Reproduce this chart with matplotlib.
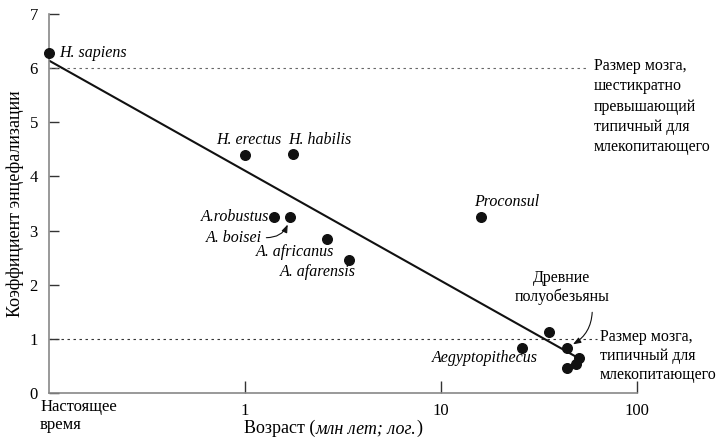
import matplotlib
matplotlib.use("Agg")
from matplotlib import pyplot as plt  # noqa

# species: age (million years, log scale) and encephalization quotient
names = ['H. sapiens', 'H. erectus', 'H. habilis', 'A.robustus', 'A. boisei',
         'A. africanus', 'A. afarensis', 'Proconsul', 'Aegyptopithecus']
ages = [0.1, 1.0, 1.75, 1.41, 1.70, 2.61, 3.39, 16.0, 25.8]
eq = [6.28, 4.39, 4.42, 3.26, 3.26, 2.85, 2.45, 3.25, 0.84]

# unlabeled primate points (prosimians etc.)
prim_ages = [35.7, 43.8, 50.6, 48.7, 43.8]
prim_eq = [1.13, 0.84, 0.65, 0.53, 0.47]

# regression line end points
fit_x = [0.1, 48.3]
fit_y = [6.14, 0.68]

# label offsets (pixels) and alignment
offsets = [(10, 0, 'left'), (4, 15, 'center'), (27, 14, 'center'), (-5, 0, 'right'),
           (-28, -21, 'right'), (-32, -13, 'center'), (-31, -12, 'center'),
           (26, 15, 'center'), (-37, -10, 'center')]

serif = 'Liberation Serif'
plt.rcParams['font.family'] = serif
fs = 11.5      # annotations
fs_tick = 12
fs_lab = 13

fig = plt.figure(figsize=(7.23, 4.38), dpi=100)
ax = fig.add_axes([0.0678, 0.1027, 0.8133, 0.8653])

ax.set_xscale('log')
ax.set_xlim(0.1, 100)
ax.set_ylim(0, 7)

ax.plot([0.1, 55.6], [6, 6], color='#666666', lw=0.8, ls=(0, (2.2, 3.2)))
ax.plot([0.1, 62.5], [1, 1], color='#333333', lw=0.8, ls=(0, (2.2, 3.2)))
ax.plot(fit_x, fit_y, color='#111111', lw=1.5)

ax.scatter(ages, eq, s=48, color='#111111', zorder=3, clip_on=False)
ax.scatter(prim_ages, prim_eq, s=48, color='#111111', zorder=3)

for name, x, y, (dx, dy, ha) in zip(names, ages, eq, offsets):
    if name == 'A. boisei':
        continue
    ax.annotate(name, (x, y), xytext=(dx, dy), textcoords='offset pixels',
                ha=ha, va='center', style='italic', fontsize=fs)

# A. boisei with curved pointer
ax.annotate('A. boisei', (ages[4], eq[4]), xytext=(-28, -21), textcoords='offset pixels',
            ha='right', va='center', style='italic', fontsize=fs,
            arrowprops=dict(arrowstyle='-|>,head_length=0.4,head_width=0.15', color='#111111', lw=0.8,
                            connectionstyle='arc3,rad=0.45', shrinkA=1, shrinkB=6,
                            relpos=(1.0, 0.5)))

ax.annotate('Древние\nполуобезьяны', (prim_ages[1], prim_eq[1]), xytext=(-5, 60),
            textcoords='offset pixels', ha='center', va='center', fontsize=fs,
            linespacing=1.25,
            arrowprops=dict(arrowstyle='-|>,head_length=0.4,head_width=0.15', color='#111111', lw=0.8,
                            connectionstyle='arc3,rad=-0.35', shrinkA=3, shrinkB=5,
                            relpos=(0.82, 0.0)))

ax.annotate('Размер мозга,\nшестикратно\nпревышающий\nтипичный для\nмлекопитающего',
            (55.6, 6), xytext=(7, 10), textcoords='offset pixels', ha='left', va='top',
            fontsize=fs, linespacing=1.35, annotation_clip=False)
ax.annotate('Размер мозга,\nтипичный для\nмлекопитающего',
            (62.5, 1), xytext=(3, 10), textcoords='offset pixels', ha='left', va='top',
            fontsize=fs, linespacing=1.25, annotation_clip=False)

for side in ['top', 'right']:
    ax.spines[side].set_visible(False)
for side in ['left', 'bottom']:
    ax.spines[side].set_color('#888888')
    ax.spines[side].set_linewidth(1.2)

ax.set_yticks(range(0, 8))
ax.set_xticks([1, 10, 100])
ax.set_xticklabels(['1', '10', '100'])
ax.xaxis.set_minor_locator(matplotlib.ticker.NullLocator())
ax.tick_params(axis='y', direction='in', length=7, width=1.0, color='#333333',
               labelsize=fs_tick, pad=8)
ax.tick_params(axis='x', direction='in', length=9, width=1.0, color='#333333',
               labelsize=fs_tick, pad=7)

ax.annotate('Настоящее\nвремя', (0.1, 0), xytext=(-9, -6), textcoords='offset pixels',
            ha='left', va='top', fontsize=fs_tick, linespacing=1.15, annotation_clip=False)

ax.set_ylabel('Коэффициент энцефализации', fontsize=fs_lab, labelpad=4)

t1 = fig.text(244 / 723, 5 / 438, 'Возраст (', ha='left', va='baseline', fontsize=fs_lab)
t2 = ax.annotate('млн лет; лог.', xy=(1, 0), xycoords=t1, ha='left', va='bottom',
                 style='italic', fontsize=fs_lab)
ax.annotate(')', xy=(1, 0), xycoords=t2, ha='left', va='bottom', fontsize=fs_lab)

fig.savefig('out.png', dpi=100)
